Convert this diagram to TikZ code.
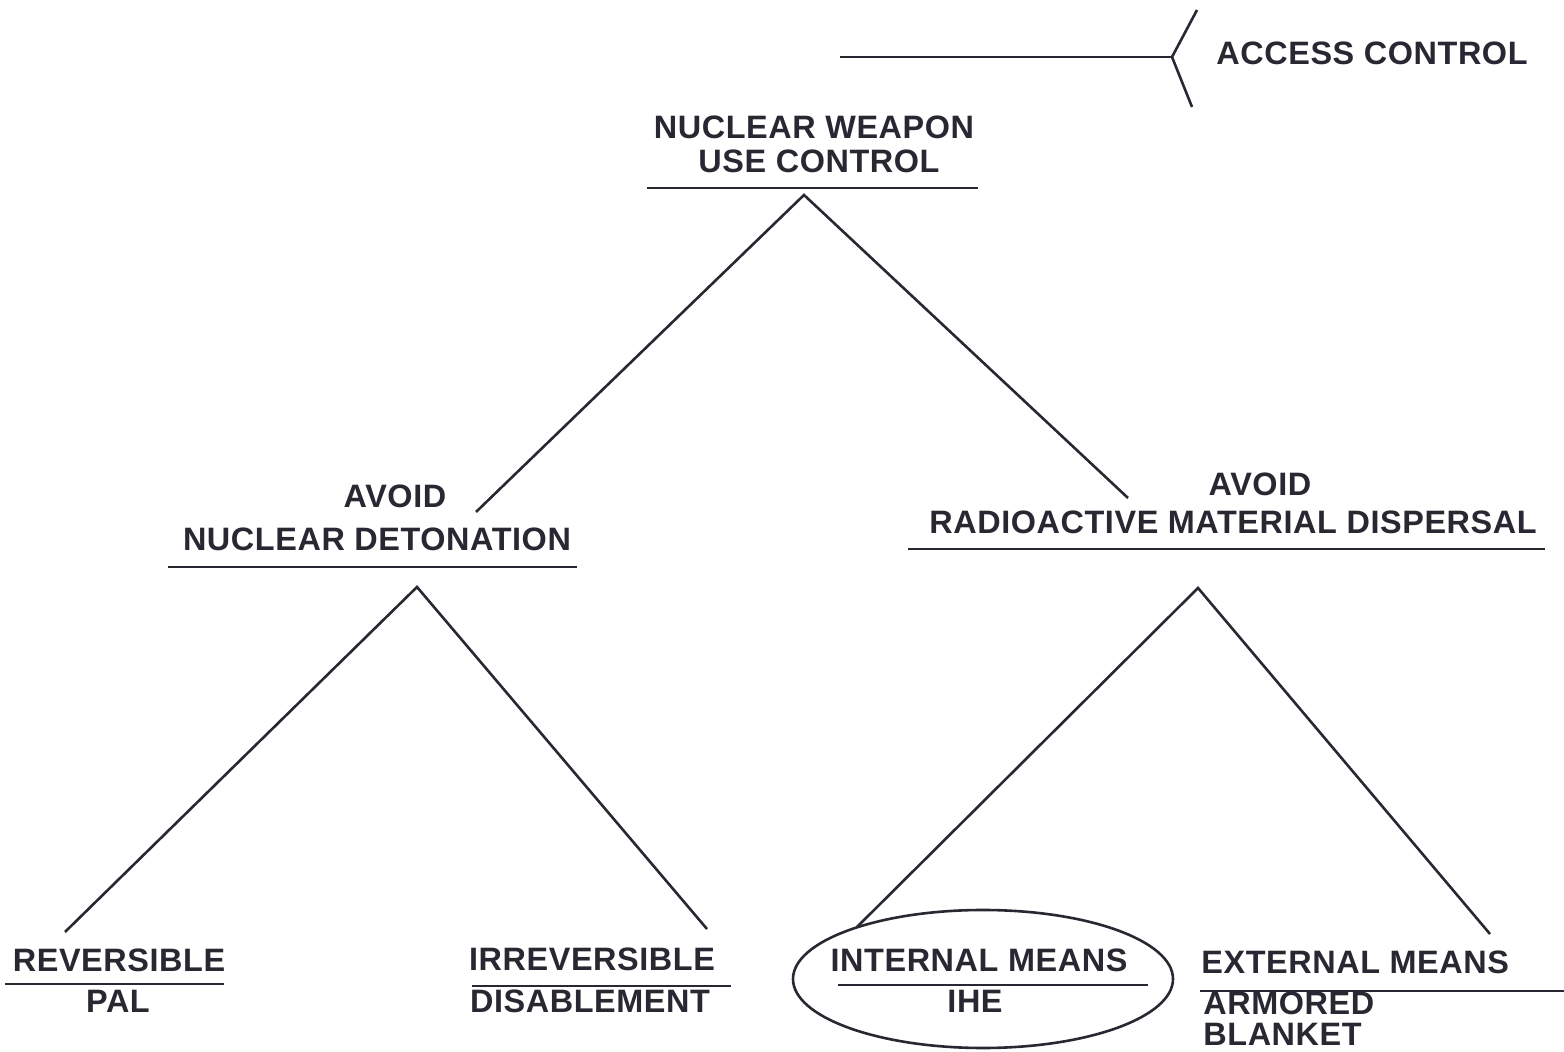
\documentclass[tikz,border=0pt]{standalone}
\usepackage{fontspec}
\newfontfamily\labfont{Liberation Sans}[LetterSpace=1.8]
\usetikzlibrary{shapes.geometric}
\definecolor{ink}{RGB}{40,40,50}
\tikzset{
  lab/.style={inner sep=0pt, text=ink, font=\labfont\bfseries\fontsize{16.2pt}{19pt}\selectfont},
  labl/.style={lab, anchor=west},
  wire/.style={draw=ink, line width=1.3pt},
  rule/.style={draw=ink, line width=1.25pt}
}
\begin{document}
\begin{tikzpicture}[x=0.5pt,y=-0.5pt]
\useasboundingbox (0,0) rectangle (1564,1052);
% access control
\coordinate (acL) at (840,57);
\coordinate (acV) at (1172,57);
\coordinate (acT) at (1197,10);
\coordinate (acB) at (1192,107);
\draw[wire] (acL) -- (acV);
\draw[wire] (acT) -- (acV) -- (acB);
\node[lab] (access) at (1372,53) {ACCESS CONTROL};
% top
\node[lab] (top1) at (814,127) {NUCLEAR WEAPON};
\node[lab] (top2) at (819,161) {USE CONTROL};
\coordinate (topUL) at (647,188); \coordinate (topUR) at (978,188);
\draw[rule] (topUL) -- (topUR);
\coordinate (apexTop) at (804,195);
\coordinate (endTL) at (476,512);
\coordinate (endTR) at (1128,498);
\draw[wire] (endTL) -- (apexTop) -- (endTR);
% left mid
\node[lab] (and1) at (395,496) {AVOID};
\node[lab] (and2) at (377,539) {NUCLEAR DETONATION};
\coordinate (ndUL) at (168,567); \coordinate (ndUR) at (577,567);
\draw[rule] (ndUL) -- (ndUR);
\coordinate (apexL) at (417,587);
\coordinate (endLL) at (65,932);
\coordinate (endLR) at (707,929);
\draw[wire] (endLL) -- (apexL) -- (endLR);
% right mid
\node[lab] (rmd1) at (1260,484) {AVOID};
\node[lab] (rmd2) at (1233,522) {RADIOACTIVE MATERIAL DISPERSAL};
\coordinate (rmUL) at (908,549); \coordinate (rmUR) at (1545,549);
\draw[rule] (rmUL) -- (rmUR);
\coordinate (apexR) at (1198,588);
\coordinate (endRL) at (857,927);
\coordinate (endRR) at (1490,934);
\draw[wire] (endRL) -- (apexR) -- (endRR);
% bottom left
\node[lab] (rev) at (119,960) {REVERSIBLE};
\coordinate (revUL) at (5,984); \coordinate (revUR) at (224,984);
\draw[rule] (revUL) -- (revUR);
\node[lab] (pal) at (118,1001) {PAL};
\node[lab] (irr) at (592,959) {IRREVERSIBLE};
\coordinate (irrUL) at (472,986); \coordinate (irrUR) at (731,986);
\draw[rule] (irrUL) -- (irrUR);
\node[lab] (dis) at (590,1001) {DISABLEMENT};
% bottom right
\draw[wire] (983,979) ellipse [x radius=190, y radius=69];
\node[lab] (intm) at (979,960) {INTERNAL MEANS};
\coordinate (intUL) at (838,985); \coordinate (intUR) at (1148,985);
\draw[rule] (intUL) -- (intUR);
\node[lab] (ihe) at (975,1001) {IHE};
\node[labl] (extm) at (1201,962) {EXTERNAL MEANS};
\coordinate (extUL) at (1200,991); \coordinate (extUR) at (1564,991);
\draw[rule] (extUL) -- (extUR);
\node[labl] (arm) at (1203,1003) {ARMORED};
\node[labl] (bla) at (1203,1034) {BLANKET};
\end{tikzpicture}
\end{document}
